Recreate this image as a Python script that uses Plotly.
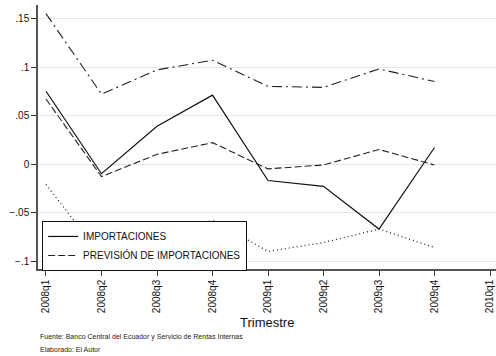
import plotly.graph_objects as go

quarters = ["2008q1", "2008q2", "2008q3", "2008q4", "2009q1", "2009q2", "2009q3", "2009q4", "2010q1"]
importaciones = [0.075, -0.010, 0.039, 0.071, -0.017, -0.023, -0.067, 0.017]
prevision = [0.067, -0.013, 0.010, 0.022, -0.005, -0.001, 0.015, -0.001]
limite_superior = [0.155, 0.072, 0.097, 0.107, 0.080, 0.079, 0.098, 0.085]
limite_inferior = [-0.021, -0.095, -0.076, -0.058, -0.090, -0.081, -0.067, -0.086]
y_tick_vals = [-0.1, -0.05, 0, 0.05, 0.1, 0.15]
y_tick_text = ["\u2212.1", "\u2212.05", "0", ".05", ".1", ".15"]

xs = list(range(len(importaciones)))
font = "Liberation Sans, Arial, sans-serif"

fig = go.Figure()
fig.add_trace(go.Scatter(x=xs, y=limite_superior, mode="lines", showlegend=False,
                         line=dict(color="#222", width=1.1, dash="10px,4px,2px,4px")))
fig.add_trace(go.Scatter(x=xs, y=limite_inferior, mode="lines", showlegend=False,
                         line=dict(color="#222", width=1.3, dash="1px,3px")))
fig.add_trace(go.Scatter(x=xs, y=prevision, mode="lines", name="PREVISIÓN DE IMPORTACIONES",
                         line=dict(color="#222", width=1.1, dash="7px,3px"), legendrank=2))
fig.add_trace(go.Scatter(x=xs, y=importaciones, mode="lines", name="IMPORTACIONES",
                         line=dict(color="#111", width=1.2), legendrank=1))

fig.update_layout(
    width=496, height=356,
    margin=dict(l=38, r=0, t=5, b=87),
    paper_bgcolor="white", plot_bgcolor="white",
    font=dict(family=font, color="#111", size=10),
    showlegend=True,
    legend=dict(x=0.009, y=0.182, xanchor="left", yanchor="top",
                bordercolor="#111", borderwidth=1, bgcolor="white",
                font=dict(size=10), itemwidth=30, tracegroupgap=0,
                traceorder="normal"),
    xaxis=dict(range=[-0.144, 8.108], tickvals=list(range(len(quarters))), ticktext=quarters,
               tickangle=-90, ticks="outside", ticklen=5, tickcolor="#333",
               showgrid=False, showline=True, linecolor="#555", linewidth=1.5,
               zeroline=False, tickfont=dict(size=10)),
    yaxis=dict(range=[-0.1082, 0.1639], tickvals=y_tick_vals, ticktext=y_tick_text,
               ticks="outside", ticklen=5, tickcolor="#333",
               showgrid=True, gridcolor="#e6e6e6", gridwidth=1,
               showline=True, linecolor="#555", linewidth=1.5, zeroline=False,
               tickfont=dict(size=10)),
    annotations=[
        dict(text="Trimestre",
             xref="paper", yref="paper", x=0.5, y=-0.2045, xanchor="center", yanchor="middle",
             showarrow=False, font=dict(size=13, color="#111")),
        dict(text="Fuente: Banco Central del Ecuador y Servicio de Rentas Internas",
             xref="paper", yref="paper", x=0, y=-0.2576, xanchor="left", yanchor="middle",
             showarrow=False, font=dict(size=7, color="#222")),
        dict(text="Elaborado: El Autor",
             xref="paper", yref="paper", x=0, y=-0.3068, xanchor="left", yanchor="middle",
             showarrow=False, font=dict(size=7, color="#222")),
    ],
)

fig.write_html("out.html", config={"displayModeBar": False},
               post_script="document.body.style.margin='0';")
